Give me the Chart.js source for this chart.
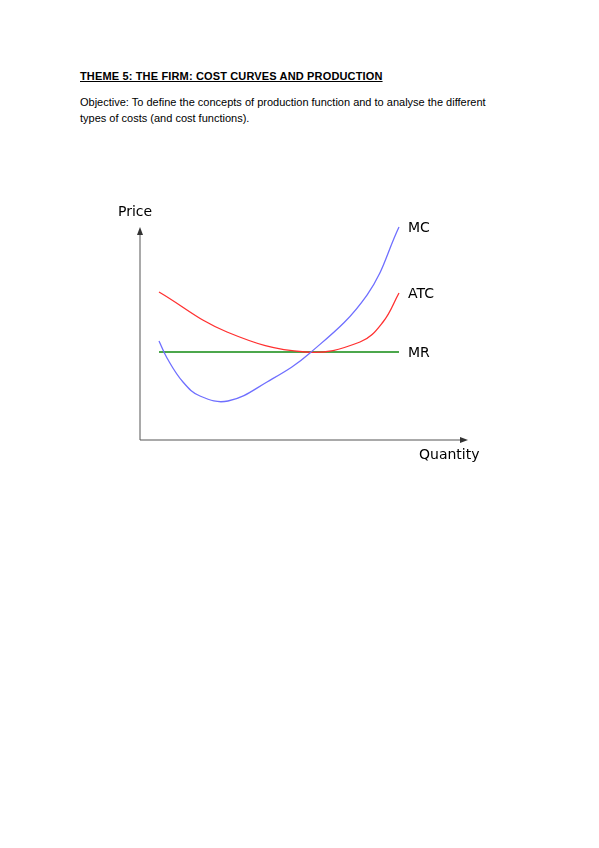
<!DOCTYPE html>
<html>
<head>
<meta charset="utf-8">
<script src="https://cdn.jsdelivr.net/npm/chart.js@4"></script>
<style>
  body { margin: 0; background: #fff; }
  #wrap { position: relative; width: 599px; height: 848px; }
  #chart { position: absolute; left: 0; top: 0; }
  .txt { position: absolute; font-family: "Liberation Sans", Arial, sans-serif; font-size: 11px; color: #000; }
</style>
</head>
<body>
<div id="wrap">
  <div class="txt" style="left:80px;top:70px;font-weight:bold;text-decoration:underline;letter-spacing:0.15px;">THEME 5: THE FIRM: COST CURVES AND PRODUCTION</div>
  <div class="txt" style="left:80px;top:94px;line-height:16px;">Objective: To define the concepts of production function and to analyse the different<br>types of costs (and cost functions).</div>
  <canvas id="chart" width="599" height="848"></canvas>
</div>
<script>
// quantity / price points (arbitrary units)
var mcQty   = [19, 27, 43, 60, 88, 127, 170, 227, 259];
var mcCost  = [99, 82, 58, 44, 39, 58, 87, 145, 213];
var atcQty  = [19, 87, 165, 220, 243, 259];
var atcCost = [148, 108, 88, 98, 118, 147];
var mrQty   = [19, 259];
var mrPrice = [88, 88];
var curveLabels = ['MC', 'ATC', 'MR'];

function pts(xs, ys) {
    return xs.map(function (x, i) { return { x: x, y: ys[i] }; });
}

// axes with arrows plus the text labels
var axesPlugin = {
    id: 'axes',
    afterDatasetsDraw: function (chart) {
        var c = chart.ctx, xs = chart.scales.x, ys = chart.scales.y;
        var ox = xs.getPixelForValue(0), oy = ys.getPixelForValue(0);
        var top = ys.getPixelForValue(213), right = xs.getPixelForValue(328);
        c.save();
        c.strokeStyle = '#555'; c.fillStyle = '#333'; c.lineWidth = 1;
        c.beginPath(); c.moveTo(ox, oy); c.lineTo(ox, top + 4); c.moveTo(ox, oy); c.lineTo(right - 4, oy); c.stroke();
        c.beginPath(); c.moveTo(ox, top); c.lineTo(ox - 3, top + 8); c.lineTo(ox + 3, top + 8); c.fill();
        c.beginPath(); c.moveTo(right, oy); c.lineTo(right - 8, oy - 3); c.lineTo(right - 8, oy + 3); c.fill();
        c.fillStyle = '#000';
        c.font = '14px "DejaVu Sans"';
        c.textBaseline = 'middle';
        c.fillText('Price', 118, 212);
        c.fillText('Quantity', 419, 455);
        var ends = [mcCost[mcCost.length - 1], atcCost[atcCost.length - 1], mrPrice[1]];
        curveLabels.forEach(function (l, i) {
            c.fillText(l, 408, ys.getPixelForValue(ends[i]) + 1);
        });
        c.restore();
    }
};

var ctx = document.getElementById('chart').getContext('2d');
new Chart(ctx, {
    type: 'scatter',
    data: {
        datasets: [
            { data: pts(mcQty, mcCost), borderColor: '#6f6fff', showLine: true, tension: 0.4, pointRadius: 0, borderWidth: 1.3 },
            { data: pts(atcQty, atcCost), borderColor: '#ff3030', showLine: true, tension: 0.4, pointRadius: 0, borderWidth: 1.3 },
            { data: pts(mrQty, mrPrice), borderColor: '#108a10', showLine: true, pointRadius: 0, borderWidth: 1.5 }
        ]
    },
    options: {
        responsive: false,
        animation: false,
        layout: { padding: { left: 140, top: 220, right: 129, bottom: 408 } },
        plugins: { legend: { display: false }, tooltip: { enabled: false } },
        scales: {
            x: { type: 'linear', min: 0, max: 330, display: false },
            y: { type: 'linear', min: 0, max: 220, display: false }
        }
    },
    plugins: [axesPlugin]
});
</script>
</body>
</html>
